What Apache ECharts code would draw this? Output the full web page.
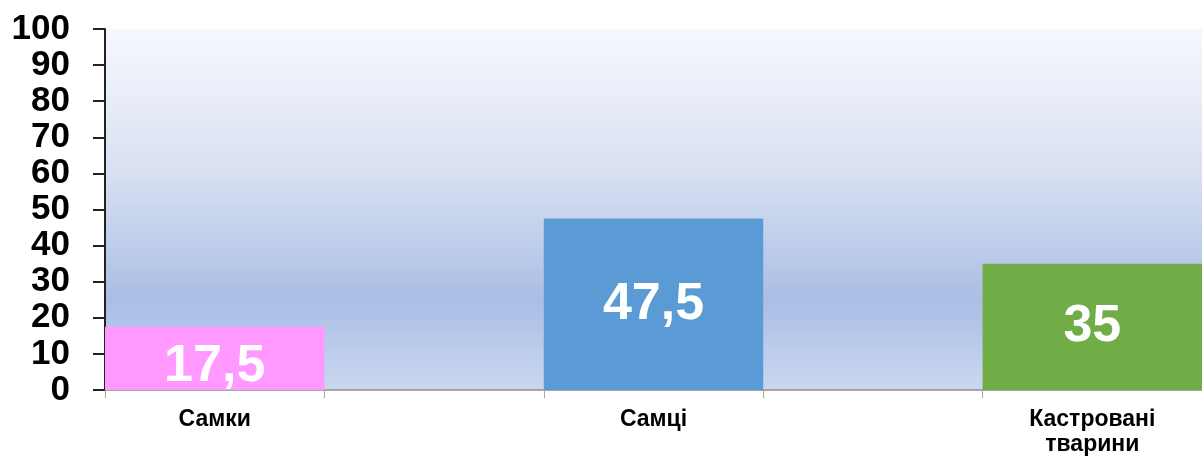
<!DOCTYPE html>
<html>
<head>
<meta charset="utf-8">
<script src="https://cdn.jsdelivr.net/npm/echarts@6/dist/echarts.min.js"></script>
<style>
html,body{margin:0;padding:0;background:#fff;}
#chart{width:1202px;height:458px;}
</style>
</head>
<body>
<div id="chart"></div>
<script>
const categories = ['Самки', 'Самці', 'Кастровані\nтварини'];
const values = [17.5, 47.5, 35];
const barColors = ['#ff99ff', '#5b9bd5', '#70ad47'];
const yTicks = { min: 0, max: 100, interval: 10 };

// categories interleaved with empty gap slots
const axisCats = [];
const seriesData = [];
categories.forEach((c, i) => {
  axisCats.push(c);
  seriesData.push({
    value: values[i],
    itemStyle: { color: barColors[i] },
    label: i === 0 ? { offset: [0, 8] } : undefined
  });
  if (i < categories.length - 1) {
    axisCats.push('');
    seriesData.push('-');
  }
});

const chart = echarts.init(document.getElementById('chart'), null, { renderer: 'canvas' });
chart.setOption({
  animation: false,
  grid: {
    left: 105, right: 0, top: 29, bottom: 68,
    show: true,
    borderWidth: 0,
    backgroundColor: {
      type: 'linear', x: 0, y: 0, x2: 0, y2: 1,
      colorStops: [
        { offset: 0, color: '#f6f8fd' },
        { offset: 0.4, color: '#d8e0f1' },
        { offset: 0.75, color: '#aabee4' },
        { offset: 1, color: '#cad7ef' }
      ]
    }
  },
  xAxis: {
    type: 'category',
    data: axisCats,
    axisLine: { show: true, lineStyle: { color: '#a6a6a6', width: 2 } },
    axisTick: { show: true, interval: 0, length: 8, lineStyle: { color: '#a6a6a6', width: 1 } },
    axisLabel: {
      interval: 0, margin: 17,
      fontFamily: 'Arial, "Liberation Sans", sans-serif',
      fontWeight: 'bold', fontSize: 23, color: '#000', lineHeight: 25
    }
  },
  yAxis: {
    type: 'value',
    min: yTicks.min, max: yTicks.max, interval: yTicks.interval,
    splitLine: { show: false },
    axisLine: { show: true, lineStyle: { color: '#222', width: 2 } },
    axisTick: { show: true, length: 12, lineStyle: { color: '#222', width: 2 } },
    axisLabel: {
      margin: 35,
      fontFamily: 'Arial, "Liberation Sans", sans-serif',
      fontWeight: 'bold', fontSize: 35, color: '#000'
    }
  },
  series: [{
    type: 'bar',
    data: seriesData,
    barWidth: '100%',
    label: {
      show: true,
      position: 'inside',
      color: '#fff',
      fontFamily: 'Arial, "Liberation Sans", sans-serif',
      fontWeight: 'bold',
      fontSize: 52,
      formatter: p => String(p.value).replace('.', ',')
    }
  }]
});
</script>
</body>
</html>
